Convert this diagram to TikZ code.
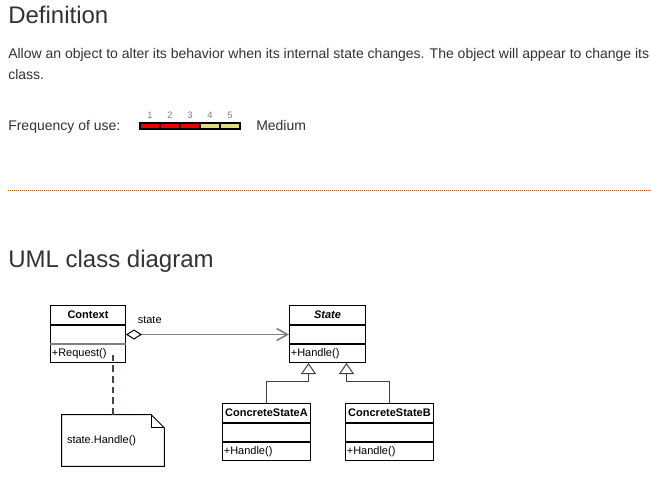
\documentclass[tikz,border=0pt]{standalone}
\usepackage{fontspec}
\setmainfont{Liberation Sans}
\usetikzlibrary{arrows.meta, positioning, calc}
\definecolor{textgray}{RGB}{51,51,51}
\definecolor{freqred}{RGB}{238,0,0}
\definecolor{freqkhaki}{RGB}{222,222,128}
\definecolor{rulered}{RGB}{232,88,48}
\definecolor{linkgreen}{RGB}{60,76,60}

\begin{document}
\begin{tikzpicture}[x=0.75pt, y=-0.75pt, node distance=0pt,
  every node/.style={inner sep=0pt, text=textgray},
  heading/.style={font=\fontsize{18}{21}\selectfont},
  bodytext/.style={font=\fontsize{10.5}{15.75}\selectfont},
  umlrow/.style={draw, line width=0.75pt, text=black, font=\fontsize{8.25}{9.5}\selectfont,
    inner xsep=1pt, minimum height=13.5pt},
  umlname/.style={umlrow, text width=#1, align=center, minimum height=14.25pt},
  umlops/.style={umlrow, text width=#1, align=left},
  freqcell/.style={draw=black, line width=1.5pt, minimum width=15pt, minimum height=4.5pt},
  freqnum/.style={text=gray, font=\fontsize{7}{8}\selectfont},
  assoc/.style={draw=gray, line width=1.2pt,
    {Diamond[open, length=12pt, width=7.5pt, color=black, line width=0.75pt]}-{Straight Barb[length=8pt, width=9pt]}},
  inherit/.style={draw=black!75, line width=0.75pt, -{Triangle[open, length=8.25pt, width=11.25pt]}},
  notelink/.style={draw=linkgreen, line width=0.9pt, dash pattern=on 5pt off 3pt}]
  \fill[white] (0,0) rectangle (651,479);
  \useasboundingbox (0,0) rectangle (651,479);

  \node[heading, anchor=base west] (defhead) at (8,23) {Definition};
  \node[bodytext, anchor=base west] (intro) at (8,58.5) {Allow an object to alter its behavior when its internal state changes. The object will appear to change its};
  \node[bodytext, anchor=base west] (introend) at (8,79) {class.};
  \node[bodytext, anchor=base west] (freqlabel) at (8,130) {Frequency of use:};
  \foreach \i/\c in {1/freqred, 2/freqred, 3/freqred, 4/freqkhaki, 5/freqkhaki} {
    \node[freqcell, fill=\c] (cell\i) at (130+20*\i, 125.5) {};
    \node[freqnum, above=2pt of cell\i] (num\i) {\i};
  }
  \node[bodytext, anchor=base west] (freqvalue) at (256,130) {Medium};
  \draw[rulered, line width=0.75pt, dash pattern=on 0.75pt off 0.75pt] (8,190) -- (651,190);
  \node[heading, anchor=base west] (umlhead) at (8,267) {UML class diagram};

  \node[umlname=54.25pt, anchor=north west] (ctxname) at (50,305) {\textbf{Context}};
  \node[umlops=54.25pt, below=of ctxname] (ctxattr) {};
  \node[umlops=54.25pt, below=of ctxattr] (ctxops) {+Request()};
  \draw[gray, line width=1.5pt] (ctxops.north west) -- (ctxops.north east);

  \node[umlname=55pt, right=122.25pt of ctxname] (statename) {\textbf{\textit{State}}};
  \node[umlops=55pt, below=of statename] (stateattr) {};
  \node[umlops=55pt, below=of stateattr] (stateops) {+Handle()};

  \node[umlname=64pt, anchor=north west] (csaname) at (222,403) {\textbf{ConcreteStateA}};
  \node[umlops=64pt, below=of csaname] (csaattr) {};
  \node[umlops=64pt, below=of csaattr] (csaops) {+Handle()};

  \node[umlname=64pt, anchor=north west] (csbname) at (345,403) {\textbf{ConcreteStateB}};
  \node[umlops=64pt, below=of csbname] (csbattr) {};
  \node[umlops=64pt, below=of csbattr] (csbops) {+Handle()};

  \node[text=black, font=\fontsize{8.25}{9.5}\selectfont, inner xsep=3.75pt, text width=69pt, align=left,
    minimum width=76.5pt, minimum height=38.25pt] (note) at (113,440.5) {state.Handle()};
  \draw[line width=0.75pt] (note.north west) -- ([xshift=-9.75pt]note.north east)
    -- ([yshift=-9.75pt]note.north east) -- (note.south east) -- (note.south west) -- cycle;
  \draw[line width=0.75pt] ([xshift=-9.75pt]note.north east) -- ([xshift=-9.75pt, yshift=-9.75pt]note.north east)
    -- ([yshift=-9.75pt]note.north east);

  \draw[assoc] (ctxattr.east) -- node[text=black, font=\fontsize{8.25}{9.5}\selectfont, anchor=base west,
    pos=0, xshift=8.25pt, yshift=8.5pt] {state} (stateattr.west);
  \draw[notelink] (note.north) -- (note.north |- ctxops.center);

  \coordinate (jointA) at ([xshift=-14.25pt, yshift=-13.5pt]stateops.south);
  \coordinate (jointB) at ([xshift=14.25pt, yshift=-13.5pt]stateops.south);
  \draw[inherit] (csaname.north) |- (jointA) -- (jointA |- stateops.south);
  \draw[inherit] (csbname.north) |- (jointB) -- (jointB |- stateops.south);
\end{tikzpicture}
\end{document}
